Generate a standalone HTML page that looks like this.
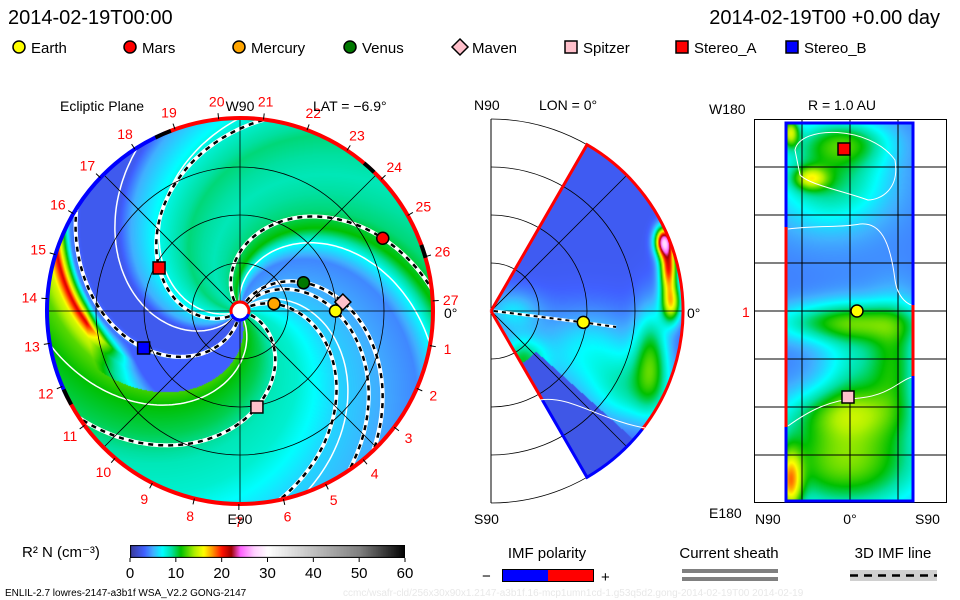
<!DOCTYPE html>
<html><head><meta charset="utf-8">
<style>
html,body{margin:0;padding:0;background:#fff;}
#wrap{position:relative;width:960px;height:600px;overflow:hidden;background:#fff;font-family:"Liberation Sans",sans-serif;}
canvas{position:absolute;}
svg{position:absolute;left:0;top:0;}
</style></head><body>
<div id="wrap">
<canvas id="cvL" width="400" height="400" style="left:40px;top:111px"></canvas>
<canvas id="cvM" width="200" height="400" style="left:491px;top:111px"></canvas>
<canvas id="cvR" width="129" height="380" style="left:785px;top:122px"></canvas>
<canvas id="cvC" width="275" height="13" style="left:130px;top:545px"></canvas>
<svg id="sv" width="960" height="600" font-family="Liberation Sans, sans-serif"></svg>
</div>
<script>
// ---- data ----
const bodyNames = ["Earth","Mars","Mercury","Venus","Maven","Spitzer","Stereo_A","Stereo_B"];
const bodyR = [0.99,1.66,0.36,0.72,1.07,1.01,0.95,1.07];          // AU
const bodyLon = [0,27,12,24,5,-80,152,201];                        // deg
const bodyWind = [55,60,55,55,55,67,66,57];                        // deg per AU
const bodyColor = ["#ffff00","#ff0000","#ffa500","#007800","#ffc0cb","#ffc0cb","#ff0000","#0000ff"];
const bodyShape = ["circle","circle","circle","circle","diamond","square","square","square"];
const sheathPhase = [232,100,300,40,200];
const cbTicks = [0,10,20,30,40,50,60];
const lonLabels = [1,2,3,4,5,6,7,8,9,10,11,12,13,14,15,16,17,18,19,20,21,22,23,24,25,26,27];
const phaseKeys = [0,30,60,86,100,112,125,150,176,200,221,230,255,262,272,278,286,300,320,340,360];
const phaseVals = [8,6,5,4,7,11,9.5,8.5,9.5,7.5,5,2.5,2.5,4,21,15,12.5,11,10,8.5,8];
// colorbar palette stops (value -> color)
const palV = [0,3,5,7,9,11,14,16,18,20,22,24,27,30,40,50,60];
const palC = ["#3a3a9a","#4060ff","#40b0ff","#00ffff","#00e0a0","#00c000","#b0f000","#ffff00","#ff9000","#ff1000","#a00000","#ff60ff","#ffd0ff","#ffffff","#c0c0c0","#808080","#000000"];
// meridional blobs [x,y,sx,sy,amp]
const merBlobs = [[95,40,38,30,4],[140,80,30,25,5],[30,50,16,16,7],[177,-45,6,18,17],[172,-70,6,10,20],[180,-8,7,14,12],[160,45,12,35,7],[20,0,20,15,3.5]];
// sphere blobs
const sphBlobs = [[45,55,40,35,6],[25,56,12,8,7],[5,10,6,10,9],[60,200,50,14,7],[110,240,18,40,6],[70,250,25,40,4],[60,340,55,35,9],[5,360,8,22,10],[60,290,40,18,5],[60,20,30,15,5]];

const NS="http://www.w3.org/2000/svg";
const sv=document.getElementById('sv');
function hex(c){return [parseInt(c.substr(1,2),16),parseInt(c.substr(3,2),16),parseInt(c.substr(5,2),16)];}
const palRGB=palC.map(hex);
function pal(v){
  if(v<=palV[0])return palRGB[0];
  for(let i=1;i<palV.length;i++){ if(v<=palV[i]){const t=(v-palV[i-1])/(palV[i]-palV[i-1]);const a=palRGB[i-1],b=palRGB[i];return [a[0]+(b[0]-a[0])*t,a[1]+(b[1]-a[1])*t,a[2]+(b[2]-a[2])*t];}}
  return palRGB[palRGB.length-1];
}
function interp(keys,vals,x){for(let i=1;i<keys.length;i++){if(x<=keys[i]){const t=(x-keys[i-1])/(keys[i]-keys[i-1]);return vals[i-1]+(vals[i]-vals[i-1])*t;}}return vals[vals.length-1];}
function blobs(list,x,y,base){let v=base;for(const b of list){const dx=(x-b[0])/b[2],dy=(y-b[1])/b[3];v+=b[4]*Math.exp(-(dx*dx+dy*dy)/2);}return v;}

// left panel field
const CX=240,CY=311,PX=96.5,RR=193;
(function(){const c=document.getElementById('cvL').getContext('2d');const im=c.createImageData(400,400);
for(let y=0;y<400;y++)for(let x=0;x<400;x++){const dx=x-200,dy=200-y;const r=Math.hypot(dx,dy);if(r>RR)continue;
 const ra=r/PX;let phi=Math.atan2(dy,dx)*180/Math.PI;let psi=((phi+55*ra)%360+360)%360;
 let v=interp(phaseKeys,phaseVals,psi);
 if(psi>262&&psi<290){const w=Math.min(1,Math.max(0,(ra-1.2)/0.4));v=3+(v-3)*w;}
 const col=pal(v);const i=(y*400+x)*4;im.data[i]=col[0];im.data[i+1]=col[1];im.data[i+2]=col[2];im.data[i+3]=255;}
c.putImageData(im,0,0);})();
// middle panel field
(function(){const c=document.getElementById('cvM').getContext('2d');const im=c.createImageData(200,400);
for(let y=0;y<400;y++)for(let x=0;x<200;x++){const dx=x,dy=y-200;const r=Math.hypot(dx,dy);if(r>192)continue;
 const th=Math.atan2(-dy,dx)*180/Math.PI;if(Math.abs(th)>60)continue;
 let v=blobs(merBlobs,dx,dy,2.6);if(th<-42&&r>60)v=Math.min(v,2.3);
 const col=pal(v);const i=(y*200+x)*4;im.data[i]=col[0];im.data[i+1]=col[1];im.data[i+2]=col[2];im.data[i+3]=255;}
c.putImageData(im,0,0);})();
// right panel field
(function(){const c=document.getElementById('cvR').getContext('2d');const im=c.createImageData(129,380);
for(let y=0;y<380;y++)for(let x=0;x<129;x++){const v=blobs(sphBlobs,x,y,3.8);const col=pal(v);const i=(y*129+x)*4;im.data[i]=col[0];im.data[i+1]=col[1];im.data[i+2]=col[2];im.data[i+3]=255;}
c.putImageData(im,0,0);})();
// colorbar
(function(){const c=document.getElementById('cvC').getContext('2d');for(let x=0;x<275;x++){const col=pal(x/275*60);c.fillStyle='rgb('+col.map(Math.round).join(',')+')';c.fillRect(x,0,1,13);}c.strokeStyle='#000';c.strokeRect(0.5,0.5,274,12);})();

function el(tag,attrs,parent){const e=document.createElementNS(NS,tag);for(const k in attrs)e.setAttribute(k,attrs[k]);(parent||sv).appendChild(e);return e;}
function txt(s,x,y,size,fill,anchor,name){const t=el('text',{x:x,y:y,'font-size':size,fill:fill||'#000','text-anchor':anchor||'start'});t.textContent=s;


return t;}
function polar(rAU,deg){const a=deg*Math.PI/180;return [CX+rAU*PX*Math.cos(a),CY-rAU*PX*Math.sin(a)];}
function spiralPath(psi0,k,r0,r1){let d='';for(let r=r0;r<=r1+1e-6;r+=0.02){const p=polar(r,psi0-k*r);d+=(d?'L':'M')+p[0].toFixed(1)+','+p[1].toFixed(1);}return d;}

// header
txt('2014-02-19T00:00',8,24,20,'#000','start','timestamp-left');
txt('2014-02-19T00 +0.00 day',940,24,20,'#000','end','timestamp-right');
// legend
const legX=[19,130,239,350,460,571,682,792];
bodyNames.forEach((n,i)=>{
  const g=el('g',{});
  
  
  drawMarker(g,bodyShape[i],legX[i],47,bodyColor[i]);
  const t=el('text',{x:legX[i]+12,y:53,'font-size':15},g);t.textContent=n;
});
function drawMarker(g,shape,x,y,col){
  if(shape==='circle')el('circle',{cx:x,cy:y,r:6,fill:col,stroke:'#000','stroke-width':1.5},g);
  else if(shape==='square')el('rect',{x:x-6,y:y-6,width:12,height:12,fill:col,stroke:'#000','stroke-width':1.5},g);
  else el('polygon',{points:`${x},${y-8} ${x+8},${y} ${x},${y+8} ${x-8},${y}`,fill:col,stroke:'#000','stroke-width':1.5},g);
}

// ---- left panel ----
const gL=el('g',{});


const defs=el('defs',{});
const cp=el('clipPath',{id:'diskclip'},defs);el('circle',{cx:CX,cy:CY,r:RR},cp);
const gLc=el('g',{'clip-path':'url(#diskclip)'},gL);
sheathPhase.forEach((p,i)=>{const s=el('path',{d:spiralPath(p,55,0.1,2.05),fill:'none',stroke:'#fff','stroke-width':1.5},gLc);

});
// grid
[48,96,144].forEach(r=>el('circle',{cx:CX,cy:CY,r:r,fill:'none',stroke:'#000','stroke-width':0.8},gL));
[0,45,90,135].forEach(a=>{const p=polar(2,a),q=polar(2,a+180);el('line',{x1:p[0],y1:p[1],x2:q[0],y2:q[1],stroke:'#000','stroke-width':0.8},gL);});
// IMF lines
bodyNames.forEach((n,i)=>{const psi0=bodyLon[i]+bodyWind[i]*bodyR[i];const d=spiralPath(psi0,bodyWind[i],0.12,2.02);
 el('path',{d:d,fill:'none',stroke:'#fff','stroke-width':4},gLc);
 const l=el('path',{d:d,fill:'none',stroke:'#000','stroke-width':2.5,'stroke-dasharray':'5 5'},gLc);
 
 });
// outer ring
function arc(r,a0,a1){const p=polar(r/PX,a0),q=polar(r/PX,a1);const large=Math.abs(a1-a0)>180?1:0;return `M${p[0]},${p[1]} A${r},${r} 0 ${large} 0 ${q[0]},${q[1]}`;}
el('path',{d:arc(RR,206,473),fill:'none',stroke:'#ff0000','stroke-width':4},gL);
el('path',{d:arc(RR,113,206),fill:'none',stroke:'#0000ff','stroke-width':4},gL);
[[111,116],[204,209],[46,50],[16,20]].forEach(a=>el('path',{d:arc(RR,a[0],a[1]),fill:'none',stroke:'#000','stroke-width':4},gL));
// longitude labels
lonLabels.forEach(n=>{const a=3-13.333*n;const p=polar(211/PX,a);const t0=polar(RR/PX,a),t1=polar((RR+6)/PX,a);
 el('line',{x1:t0[0],y1:t0[1],x2:t1[0],y2:t1[1],stroke:'#000','stroke-width':1},gL);
 txt(String(n),p[0],p[1]+5,14,'#ff0000','middle','lon-label-'+n);});
// sun
el('circle',{cx:CX,cy:CY,r:9,fill:'#fff'},gL);
el('path',{d:arc(9,-20,200),fill:'none',stroke:'#ff0000','stroke-width':3},gL);
el('path',{d:arc(9,200,340),fill:'none',stroke:'#0000ff','stroke-width':3},gL);
// planets
bodyNames.forEach((n,i)=>{const p=polar(bodyR[i],bodyLon[i]);const g=el('g',{},gL);
 
 
 drawMarker(g,bodyShape[i],p[0],p[1],bodyColor[i]);});
txt('Ecliptic Plane',60,111,14,'#000','start','ecliptic-title');
txt('W90',240,111,14,'#000','middle','w90-label');
txt('LAT = \u22126.9\u00b0',313,111,14,'#000','start','lat-label');
txt('E90',240,524,14,'#000','middle','e90-label');
txt('0\u00b0',444,318,14,'#000','start','zero-deg-left');

// ---- middle panel ----
const MX=491,MY=311;
const gM=el('g',{});


el('line',{x1:MX,y1:119,x2:MX,y2:503,stroke:'#000','stroke-width':1},gM);
[48,96,144,192].forEach(r=>el('path',{d:`M${MX},${MY-r} A${r},${r} 0 0 1 ${MX},${MY+r}`,fill:'none',stroke:'#000','stroke-width':0.8},gM));
el('line',{x1:MX,y1:MY,x2:MX+192,y2:MY,stroke:'#000','stroke-width':0.8},gM);
[45,-45].forEach(a=>{const r=a*Math.PI/180;el('line',{x1:MX,y1:MY,x2:MX+192*Math.cos(r),y2:MY-192*Math.sin(r),stroke:'#000','stroke-width':0.8},gM);});
function mp(r,deg){const a=deg*Math.PI/180;return [MX+r*Math.cos(a),MY-r*Math.sin(a)];}
let p1=mp(192,60),p2=mp(192,-38),p3=mp(192,-60),pl=mp(102,-60);
el('path',{d:`M${MX},${MY} L${p1[0]},${p1[1]} A192,192 0 0 1 ${p2[0]},${p2[1]}`,fill:'none',stroke:'#ff0000','stroke-width':3},gM);
el('path',{d:`M${p2[0]},${p2[1]} A192,192 0 0 1 ${p3[0]},${p3[1]} L${pl[0]},${pl[1]}`,fill:'none',stroke:'#0000ff','stroke-width':3},gM);
el('path',{d:`M${MX},${MY} L${pl[0]},${pl[1]}`,fill:'none',stroke:'#ff0000','stroke-width':3},gM);
el('path',{d:'M540,400 C570,395 600,420 645,428',fill:'none',stroke:'#fff','stroke-width':1},gM);
const ep=mp(bodyR[0]*94,-7);
el('path',{d:`M${MX+3},${MY} L${ep[0]},${ep[1]} L${MX+125},${MY+16}`,fill:'none',stroke:'#fff','stroke-width':3},gM);
el('path',{d:`M${MX+3},${MY} L${ep[0]},${ep[1]} L${MX+125},${MY+16}`,fill:'none',stroke:'#000','stroke-width':2,'stroke-dasharray':'4 4'},gM);
{const g=el('g',{},gM);


drawMarker(g,'circle',ep[0],ep[1],bodyColor[0]);}
txt('N90',474,110,14,'#000','start','n90-label');
txt('LON = 0\u00b0',539,110,14,'#000','start','lon-label');
txt('0\u00b0',687,318,14,'#000','start','zero-deg-mid');
txt('S90',474,524,14,'#000','start','s90-label');

// ---- right panel ----
const gR=el('g',{});


el('rect',{x:754.5,y:119.5,width:192,height:383,fill:'none',stroke:'#000','stroke-width':1},gR);
[167,215,263,311,359,407,455].forEach(y=>el('line',{x1:754,y1:y,x2:947,y2:y,stroke:'#000','stroke-width':1},gR));
[802,850,898].forEach(x=>el('line',{x1:x,y1:119,x2:x,y2:503,stroke:'#000','stroke-width':1},gR));
el('path',{d:'M788,229 C820,225 840,228 860,224 C880,222 890,240 895,280 C898,300 910,305 912,305',fill:'none',stroke:'#fff','stroke-width':1},gR);
el('path',{d:'M795,150 C800,125 870,125 895,160 C900,190 880,200 868,200 C840,190 810,185 800,175 Z',fill:'none',stroke:'#fff','stroke-width':1},gR);
el('path',{d:'M788,426 C810,410 830,400 860,398 C890,395 900,380 912,377',fill:'none',stroke:'#fff','stroke-width':1},gR);
el('rect',{x:786,y:123,width:127,height:378,fill:'none',stroke:'#0000ff','stroke-width':3},gR);
el('line',{x1:786,y1:227,x2:786,y2:427,stroke:'#ff0000','stroke-width':3},gR);
el('line',{x1:913,y1:305,x2:913,y2:376,stroke:'#ff0000','stroke-width':3},gR);
[[844,149,'square',bodyColor[6],'stereo_a'],[857,311,'circle',bodyColor[0],'earth'],[848,397,'square',bodyColor[5],'spitzer']].forEach(m=>{const g=el('g',{},gR);
 
 
 drawMarker(g,m[2],m[0],m[1],m[3]);});
txt('W180',709,114,14,'#000','start','w180-label');
txt('R = 1.0 AU',842,110,14,'#000','middle','radius-label');
txt('E180',709,518,14,'#000','start','e180-label');
txt('1',742,317,14,'#ff0000','start','one-label');
txt('N90',755,524,14,'#000','start','n90-right');
txt('0\u00b0',850,524,14,'#000','middle','zero-right');
txt('S90',915,524,14,'#000','start','s90-right');

// ---- bottom legend ----
txt('R\u00b2 N (cm\u207b\u00b3)',22,557,15,'#000','start','colorbar-title');
cbTicks.forEach(v=>{const x=130+v/60*275;el('line',{x1:x,y1:558,x2:x,y2:562,stroke:'#000'});txt(String(v),x,578,15,'#000','middle','colorbar-tick-'+v);});
txt('IMF polarity',547,558,15,'#000','middle','imf-polarity-title');
el('rect',{x:502,y:569,width:46,height:12,fill:'#0000ff'});
el('rect',{x:548,y:569,width:45,height:12,fill:'#ff0000'});
el('rect',{x:502.5,y:569.5,width:91,height:12,fill:'none',stroke:'#000'});
txt('\u2212',482,581,15,'#000','start','minus-label');
txt('+',601,582,15,'#000','start','plus-label');
txt('Current sheath',729,558,15,'#000','middle','current-sheath-title');
el('rect',{x:682,y:569,width:96,height:4,fill:'#808080'});
el('rect',{x:682,y:577,width:96,height:4,fill:'#808080'});
txt('3D IMF line',893,558,15,'#000','middle','imf-line-title');
el('rect',{x:850,y:570,width:87,height:11,fill:'#d0d0d0'});
el('line',{x1:850,y1:575.5,x2:937,y2:575.5,stroke:'#000','stroke-width':2.5,'stroke-dasharray':'8 6'});
txt('ENLIL-2.7 lowres-2147-a3b1f WSA_V2.2 GONG-2147',5,596,10,'#000','start','model-info');
txt('ccmc/wsafr-cld/256x30x90x1.2147-a3b1f.16-mcp1umn1cd-1.g53q5d2.gong-2014-02-19T00   2014-02-19',343,596,10,'#e8e8e8','start','run-path');
</script>
</body></html>
